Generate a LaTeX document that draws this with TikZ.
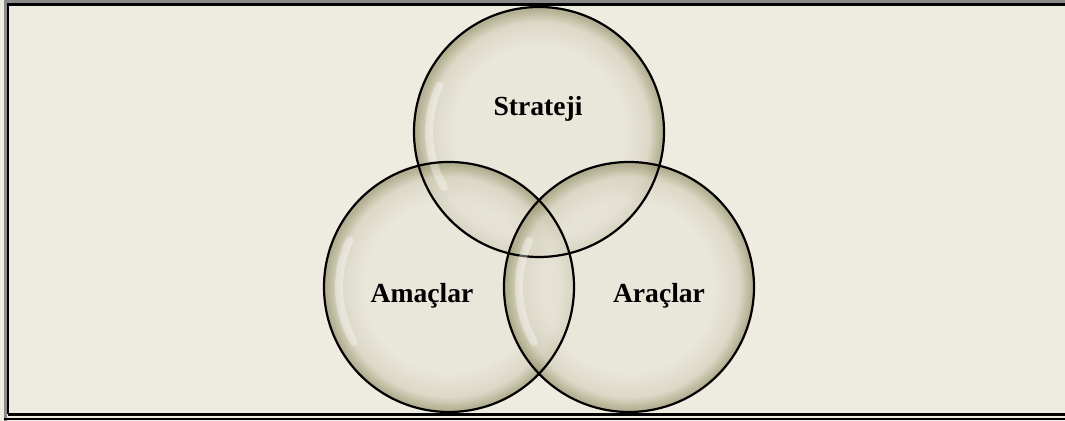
\documentclass[tikz,border=0pt]{standalone}
\usepackage{fontspec}
\setmainfont{Liberation Serif}
\definecolor{paper}{HTML}{EEEBE0}
\definecolor{bubin}{HTML}{E8E5D9}
\definecolor{bubmid}{HTML}{D6D2BE}
\definecolor{bubout}{HTML}{9E9A76}
\definecolor{framegray}{HTML}{8A8A8A}
\pgfdeclareradialshading{bubble}{\pgfpoint{0bp}{0bp}}{%
  color(0bp)=(bubin); color(17bp)=(bubin); color(22bp)=(bubmid);
  color(24.5bp)=(bubout); color(50bp)=(bubout)}
\begin{document}
\begin{tikzpicture}[x=0.5pt,y=-0.5pt,
    ring/.style={draw=black, line width=1.1pt},
    glass/.style={shading=bubble, fill opacity=0.72},
    shine/.style={white, opacity=0.35, line width=4pt, line cap=round},
    word/.style={font=\bfseries\fontsize{13.8}{16}\selectfont}]
    \useasboundingbox (0,0) rectangle (1065,421);
    % paper and frame
    \fill[paper] (0,0) rectangle (1065,421);
    \draw[framegray, line width=1.5pt] (5.5,421) -- (5.5,1.5) -- (1065,1.5);
    \draw[black, line width=1.4pt] (8,414.5) -- (8,4.5) -- (1065,4.5);
    \draw[black, line width=1.2pt] (8,414.5) -- (1065,414.5);
    \draw[black, line width=1pt] (4,419.5) -- (1065,419.5);
    % bubbles
    \foreach \cx/\cy in {539/132, 449/287, 629/287} {
        \shade[glass] (\cx,\cy) circle (125);
    }
    \foreach \cx/\cy in {539/132, 449/287, 629/287} {
        \draw[shine] (\cx,\cy) ++(150:110) arc (150:205:110);
        \draw[ring] (\cx,\cy) circle (125);
    }
    \node[word] (strateji) at (538,109) {Strateji};
    \node[word] (amaclar) at (422,296) {Amaçlar};
    \node[word] (araclar) at (659,296) {Araçlar};
\end{tikzpicture}
\end{document}
